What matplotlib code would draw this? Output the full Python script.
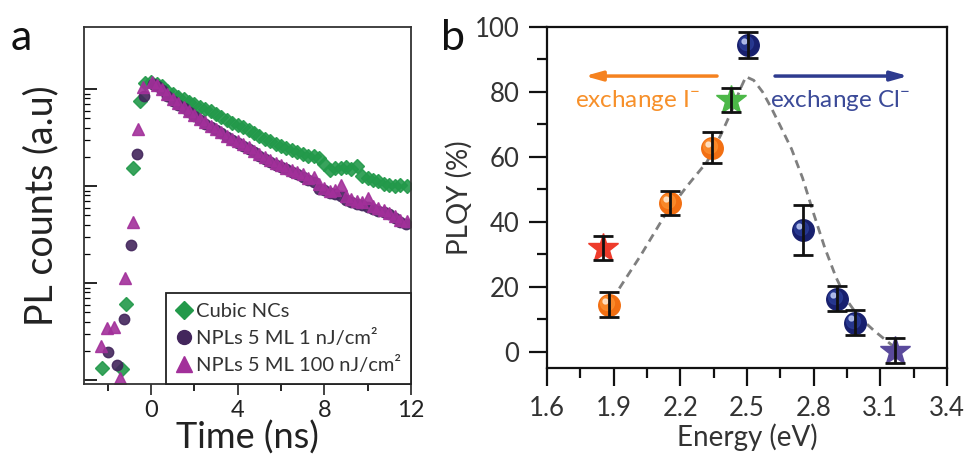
import numpy as np
import matplotlib.pyplot as plt
from matplotlib import transforms
from matplotlib.ticker import NullFormatter, FixedLocator
from matplotlib.lines import Line2D

plt.rcParams['font.family'] = ['Lato', 'DejaVu Sans']
plt.rcParams['mathtext.fontset'] = 'custom'
plt.rcParams['mathtext.rm'] = 'Lato'

# ---- panel a: PL decay (log10 of counts) ----
t_cubic = [-2.28, -1.35, -1.16, -0.84, -0.51, -0.28,
           0.0, 0.25, 0.5, 0.75, 1.0, 1.25, 1.5, 1.75, 2.0, 2.25, 2.5, 2.75,
           3.0, 3.25, 3.5, 3.75, 4.0, 4.25, 4.5, 4.75, 5.0, 5.25, 5.5, 5.75,
           6.0, 6.25, 6.5, 6.75, 7.0, 7.25, 7.5, 7.75, 8.0, 8.25, 8.5, 8.75,
           9.0, 9.25, 9.5, 9.75, 10.0, 10.25, 10.5, 10.75, 11.0, 11.25, 11.5, 11.8]
log_cubic = [0.12, 0.11, 0.78, 2.19, 2.88, 3.06,
             3.07, 3.05, 3.03, 2.98, 2.95, 2.92, 2.90, 2.87, 2.85, 2.82, 2.79, 2.77,
             2.74, 2.71, 2.68, 2.65, 2.63, 2.61, 2.58, 2.55, 2.52, 2.49, 2.46, 2.43,
             2.41, 2.39, 2.37, 2.35, 2.33, 2.31, 2.31, 2.29, 2.23, 2.17, 2.19, 2.19,
             2.20, 2.18, 2.21, 2.10, 2.08, 2.06, 2.05, 2.02, 2.01, 2.00, 2.01, 2.00]

t_low = [-2.0, -1.58, -1.26, -0.93, -0.65, -0.33,
         0.1, 0.25, 0.5, 0.75, 1.0, 1.25, 1.5, 1.75, 2.0, 2.25, 2.5, 2.75,
         3.0, 3.25, 3.5, 3.75, 4.0, 4.25, 4.5, 4.75, 5.0, 5.25, 5.5, 5.75,
         6.0, 6.25, 6.5, 6.75, 7.0, 7.25, 7.5, 7.75, 8.0, 8.25, 8.5, 8.75,
         9.0, 9.25, 9.5, 9.75, 10.0, 10.25, 10.5, 10.75, 11.0, 11.25, 11.5, 11.75]
log_low = [0.29, 0.155, 0.63, 1.39, 2.33, 2.93,
           3.05, 3.03, 2.99, 2.93, 2.88, 2.84, 2.80, 2.76, 2.72, 2.68, 2.64, 2.61,
           2.58, 2.55, 2.51, 2.47, 2.44, 2.41, 2.38, 2.35, 2.31, 2.28, 2.25, 2.22,
           2.20, 2.18, 2.15, 2.12, 2.09, 2.06, 2.04, 1.97, 1.96, 1.93, 1.92, 1.90,
           1.86, 1.84, 1.82, 1.81, 1.78, 1.76, 1.74, 1.73, 1.71, 1.67, 1.63, 1.61]

t_high = [-2.33, -2.05, -1.72, -1.44, -1.2, -0.84, -0.6, -0.37,
          0.05, 0.25, 0.5, 0.75, 1.0, 1.25, 1.5, 1.75, 2.0, 2.25, 2.5, 2.75,
          3.0, 3.25, 3.5, 3.75, 4.0, 4.25, 4.5, 4.75, 5.0, 5.25, 5.5, 5.75,
          6.0, 6.25, 6.5, 6.75, 7.0, 7.25, 7.5, 7.75, 8.0, 8.25, 8.5, 8.75,
          9.0, 9.25, 9.5, 9.75, 10.0, 10.25, 10.5, 10.75, 11.0, 11.25, 11.5, 11.8]
log_high = [0.35, 0.54, 0.55, 0.02, 1.05, 1.63, 2.59, 3.02,
            3.07, 3.04, 3.00, 2.95, 2.90, 2.86, 2.81, 2.77, 2.73, 2.69, 2.66, 2.62,
            2.59, 2.56, 2.52, 2.49, 2.46, 2.43, 2.40, 2.36, 2.33, 2.30, 2.27, 2.24,
            2.22, 2.19, 2.17, 2.14, 2.12, 2.08, 2.09, 2.02, 1.98, 1.95, 1.96, 2.01,
            1.90, 1.87, 1.85, 1.84, 1.88, 1.79, 1.77, 1.75, 1.72, 1.69, 1.65, 1.64]

# ---- panel b: PLQY vs energy ----
e_orange = [1.879, 2.153, 2.342]
q_orange = [14.5, 45.8, 62.8]
err_orange = [3.9, 3.8, 4.8]
e_blue = [2.505, 2.752, 2.905, 2.986]
q_blue = [94.5, 37.5, 16.3, 9.0]
err_blue = [4.0, 7.8, 3.8, 3.8]
e_stars = [1.852, 2.428, 3.166]
q_stars = [32.0, 77.5, 0.3]
err_stars = [3.8, 3.8, 3.8]
star_colors = ['#ee3b2b', '#4cb848', '#5a4a9c']
e_guide = [1.925, 2.02, 2.13, 2.23, 2.32, 2.38, 2.43, 2.47, 2.495, 2.53,
           2.57, 2.61, 2.65, 2.70, 2.75, 2.80, 2.85, 2.90, 2.95, 3.00, 3.07, 3.16]
q_guide = [19.5, 29.5, 42.0, 51.0, 58.5, 66.5, 74.0, 81.0, 84.7, 83.6,
           80.0, 75.0, 69.5, 62.5, 53.5, 42.5, 32.0, 23.0, 15.8, 11.0, 6.6, 1.6]

c_green = '#22994a'
c_dark = '#43265c'
c_mag = '#a2309a'

fig = plt.figure(figsize=(9.72, 4.58), dpi=100)
ax_a = fig.add_axes([0.0864, 0.1616, 0.3364, 0.7795])
ax_b = fig.add_axes([0.5628, 0.1965, 0.4115, 0.7445])

ax_a.plot(t_cubic, 10 ** np.array(log_cubic), 'D', ms=7, color=c_green, mec=c_green, alpha=0.9)
ax_a.plot(t_low, 10 ** np.array(log_low), 'o', ms=7.5, color=c_dark, mec=c_dark, alpha=0.9)
ax_a.plot(t_high, 10 ** np.array(log_high), '^', ms=8, color=c_mag, mec=c_mag, alpha=0.9)

ax_a.set_yscale('log')
ax_a.set_ylim(10 ** -0.04, 10 ** 3.64)
ax_a.set_xlim(-3.1, 12)
ax_a.set_xticks([0, 4, 8, 12])
ax_a.xaxis.set_minor_locator(FixedLocator([-2, 2, 6, 10]))
ax_a.yaxis.set_major_locator(FixedLocator([1, 10, 100, 1000]))
minor_y = [m * d for d in (1, 10, 100) for m in range(2, 10)]
ax_a.yaxis.set_minor_locator(FixedLocator(minor_y))
ax_a.yaxis.set_major_formatter(NullFormatter())
ax_a.yaxis.set_minor_formatter(NullFormatter())
ax_a.tick_params(axis='x', which='major', direction='out', length=8, width=1.2,
                 labelsize=17, pad=3.5, colors='#222222')
ax_a.tick_params(axis='x', which='minor', direction='out', length=5, width=1.2)
ax_a.tick_params(axis='y', which='major', direction='in', length=9, width=1.2)
ax_a.tick_params(axis='y', which='minor', direction='in', length=4.5, width=0.9)
for s in ax_a.spines.values():
    s.set_linewidth(1.3)
    s.set_color('#333333')
ax_a.set_xlabel('Time (ns)', fontsize=26, labelpad=0, color='#222222')
ax_a.set_ylabel('PL counts (a.u)', fontsize=27, labelpad=14, color='#222222')

handles = [Line2D([], [], ls='none', marker='D', ms=9, color=c_green),
           Line2D([], [], ls='none', marker='o', ms=10, color=c_dark),
           Line2D([], [], ls='none', marker='^', ms=11, color=c_mag)]
labels = ['Cubic NCs', 'NPLs 5 ML 1 nJ/cm²', 'NPLs 5 ML 100 nJ/cm²']
leg = ax_a.legend(handles, labels, loc='lower right', bbox_to_anchor=(1, 0),
                  borderaxespad=0, fancybox=False, fontsize=14.5, handlelength=0.8,
                  handletextpad=0.2, borderpad=0.5, labelspacing=0.45, framealpha=1)
leg.get_frame().set_edgecolor('#222222')
leg.get_frame().set_linewidth(1.3)
for txt in leg.get_texts():
    txt.set_color('#333333')

# panel b
ax_b.plot(e_guide, q_guide, '--', color='#7f7f7f', lw=2, dashes=(3, 2), zorder=1)


def draw_balls(ax, x, y, base, mid, light):
    off1 = transforms.offset_copy(ax.transData, fig=fig, x=-1.2, y=1.2, units='points')
    off2 = transforms.offset_copy(ax.transData, fig=fig, x=-3.0, y=3.0, units='points')
    ax.plot(x, y, 'o', ms=15.5, color=base, mec=base, zorder=3)
    ax.plot(x, y, 'o', ms=10, color=mid, mec=mid, alpha=0.8, zorder=3, transform=off1)
    ax.plot(x, y, 'o', ms=3.5, color=light, mec=light, alpha=0.9, zorder=3, transform=off2)


draw_balls(ax_b, e_orange, q_orange, '#f26f12', '#fb8e2e', '#ffe6cc')
draw_balls(ax_b, e_blue, q_blue, '#18206e', '#2a3c96', '#b8c4f0')
for e, q, c in zip(e_stars, q_stars, star_colors):
    ax_b.plot(e, q, '*', ms=22, color=c, mec=c, zorder=3)

ax_b.errorbar(e_orange + e_blue + e_stars, q_orange + q_blue + q_stars,
              yerr=err_orange + err_blue + err_stars, fmt='none', ecolor='#111111',
              elinewidth=2, capsize=7, capthick=2, zorder=5)

ax_b.annotate('', xy=(1.77, 84.9), xytext=(2.365, 84.9),
              arrowprops=dict(arrowstyle='-|>,head_length=1.0,head_width=0.28',
                              color='#f5821f', lw=2.5, shrinkA=0, shrinkB=0))
ax_b.annotate('', xy=(3.225, 84.9), xytext=(2.626, 84.9),
              arrowprops=dict(arrowstyle='-|>,head_length=1.0,head_width=0.28',
                              color='#2e3b8f', lw=2.5, shrinkA=0, shrinkB=0))
ax_b.text(1.726, 77.5, r'exchange I$^{-}$', color='#f7902a', fontsize=17.5, va='center')
ax_b.text(2.603, 77.5, r'exchange Cl$^{-}$', color='#3b4a98', fontsize=17.5, va='center')

ax_b.set_xlim(1.6, 3.4)
ax_b.set_ylim(-5, 100)
ax_b.set_xticks([1.6, 1.9, 2.2, 2.5, 2.8, 3.1, 3.4])
ax_b.set_xticklabels(['1.6', '1.9', '2.2', '2.5', '2.8', '3.1', '3.4'])
ax_b.xaxis.set_minor_locator(FixedLocator([1.75, 2.05, 2.35, 2.65, 2.95, 3.25]))
ax_b.set_yticks([0, 20, 40, 60, 80, 100])
ax_b.yaxis.set_minor_locator(FixedLocator([10, 30, 50, 70, 90]))
ax_b.tick_params(which='major', direction='out', length=13, width=1.6,
                 labelsize=18.5, colors='#111111', labelcolor='#333333', pad=7)
ax_b.tick_params(which='minor', direction='out', length=7, width=1.6, colors='#111111')
for s in ax_b.spines.values():
    s.set_linewidth(1.6)
    s.set_color('#111111')
ax_b.set_xlabel('Energy (eV)', fontsize=20, color='#333333', labelpad=2)
ax_b.set_ylabel('PLQY (%)', fontsize=20, color='#333333', labelpad=1)

fig.text(0.011, 0.89, 'a', fontsize=31, color='#111111')
fig.text(0.454, 0.89, 'b', fontsize=31, color='#111111')

fig.savefig('out.png', dpi=100)
